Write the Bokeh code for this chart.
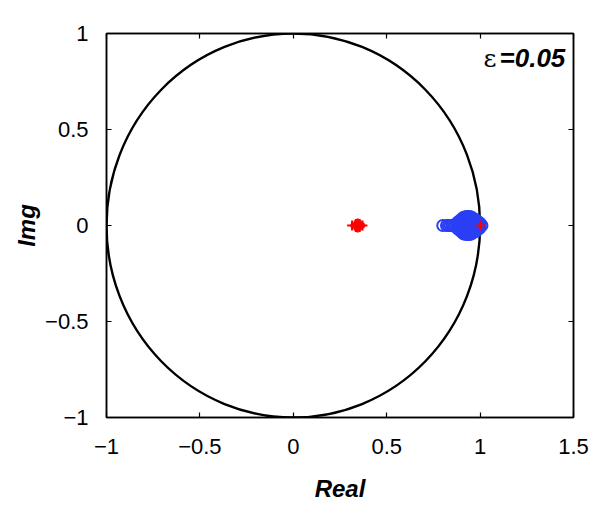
from bokeh.plotting import figure
from bokeh.models import Range1d, FixedTicker, LinearAxis, Label
from bokeh.embed import file_html
from bokeh.resources import INLINE

# ---- data ----
x_ticks = [-1, -0.5, 0, 0.5, 1, 1.5]
x_tick_labels = ["\u22121", "\u22120.5", "0", "0.5", "1", "1.5"]
y_ticks = [-1, -0.5, 0, 0.5, 1]
y_tick_labels = ["\u22121", "\u22120.5", "0", "0.5", "1"]

# blue eigenvalues (open circles)
blue_re = [0.80, 0.82, 0.83, 0.84, 0.85, 0.86, 0.865,
           0.875, 0.875, 0.875, 0.885, 0.885, 0.885,
           0.90, 0.90, 0.90, 0.90, 0.90,
           0.91, 0.91, 0.91, 0.91, 0.91, 0.91, 0.91,
           0.92, 0.92, 0.92, 0.92, 0.92, 0.92, 0.92,
           0.93, 0.93, 0.93, 0.93, 0.93, 0.93, 0.93,
           0.94, 0.94, 0.94, 0.94, 0.94, 0.94, 0.94,
           0.95, 0.95, 0.95, 0.95, 0.95, 0.95, 0.95,
           0.96, 0.96, 0.96, 0.96, 0.96, 0.96, 0.96,
           0.97, 0.97, 0.97, 0.97, 0.97,
           0.98, 0.98, 0.98, 0.98, 0.98,
           0.99, 0.99, 0.99, 1.00, 1.00, 1.00, 1.01]
blue_im = [0.0, 0.0, 0.0, 0.0, 0.0, 0.0, 0.0,
           0.0, 0.012, -0.012, 0.0, 0.022, -0.022,
           0.0, 0.017, -0.017, 0.033, -0.033,
           0.0, 0.015, -0.015, 0.03, -0.03, 0.042, -0.042,
           0.0, 0.015, -0.015, 0.03, -0.03, 0.046, -0.046,
           0.0, 0.015, -0.015, 0.03, -0.03, 0.047, -0.047,
           0.0, 0.015, -0.015, 0.03, -0.03, 0.047, -0.047,
           0.0, 0.015, -0.015, 0.03, -0.03, 0.045, -0.045,
           0.0, 0.015, -0.015, 0.03, -0.03, 0.04, -0.04,
           0.0, 0.017, -0.017, 0.033, -0.033,
           0.0, 0.015, -0.015, 0.028, -0.028,
           0.0, 0.02, -0.02, 0.0, 0.012, -0.012, 0.0]

# red eigenvalues (plus markers)
red_re = [0.315, 0.33, 0.34, 0.35, 0.36, 0.37, 0.335, 0.345, 0.355, 0.335, 0.345, 0.355, 1.00]
red_im = [0.0, 0.0, 0.0, 0.0, 0.0, 0.0, 0.008, 0.01, 0.008, -0.008, -0.01, -0.008, 0.0]

eps_symbol = "\u03b5"
eps_label = "=0.05"

FONT = "Liberation Sans"

p = figure(width=594, height=504, output_backend="svg", toolbar_location=None,
           x_range=Range1d(-1, 1.5), y_range=Range1d(-1, 1),
           min_border_left=106, min_border_right=21, min_border_top=33,
           min_border_bottom=87)
p.grid.visible = False
p.outline_line_color = "black"
p.outline_line_width = 1.5
p.background_fill_color = "white"
p.border_fill_color = "white"

for ax, ticks, labels in ((p.xaxis[0], x_ticks, x_tick_labels), (p.yaxis[0], y_ticks, y_tick_labels)):
    ax.ticker = FixedTicker(ticks=ticks)
    ax.major_label_overrides = {t: l for t, l in zip(ticks, labels)}
    ax.major_tick_in = 5
    ax.major_tick_out = 0
    ax.minor_tick_line_color = None
    ax.axis_line_color = "black"
    ax.axis_line_width = 1.5
    ax.major_tick_line_color = "black"
    ax.major_tick_line_width = 1.2
    ax.major_label_text_font = FONT
    ax.major_label_text_font_size = "22px"
    ax.major_label_text_color = "black"
    ax.axis_label_text_font = FONT
    ax.axis_label_text_font_size = "24px"
    ax.axis_label_text_font_style = "bold italic"
    ax.axis_label_text_color = "black"

p.xaxis[0].axis_label = "Real"
p.yaxis[0].axis_label = "Img"
p.xaxis[0].major_label_standoff = 21
p.yaxis[0].major_label_standoff = 18
p.xaxis[0].axis_label_standoff = 18
p.yaxis[0].axis_label_standoff = 2

# inward ticks on top and right (box)
for loc, ticks in (("above", x_ticks), ("right", y_ticks)):
    a = LinearAxis(ticker=FixedTicker(ticks=ticks), major_tick_in=5, major_tick_out=0,
                   minor_tick_line_color=None, major_label_text_font_size="0px",
                   major_label_standoff=0,
                   axis_line_color="black", axis_line_width=1.5,
                   major_tick_line_color="black", major_tick_line_width=1.2)
    a.major_label_text_color = None
    p.add_layout(a, loc)

# unit circle
p.ellipse(x=[0], y=[0], width=[2], height=[2], fill_color=None,
          line_color="black", line_width=2.4)

p.scatter(blue_re, blue_im, marker="circle", size=11, fill_color=None,
          line_color="#2a3ff5", line_width=2)
p.scatter(red_re, red_im, marker="cross", size=10, line_color="red", line_width=2.2)

p.add_layout(Label(x=1.018, y=0.792, text=eps_symbol, text_align="left",
                   text_font="DejaVu Serif", text_font_size="25px",
                   text_font_style="normal", text_color="black"))
p.add_layout(Label(x=1.104, y=0.792, text=eps_label, text_align="left",
                   text_font=FONT, text_font_size="26px",
                   text_font_style="bold italic", text_color="black"))

open("out.html", "w").write(file_html(p, INLINE))
